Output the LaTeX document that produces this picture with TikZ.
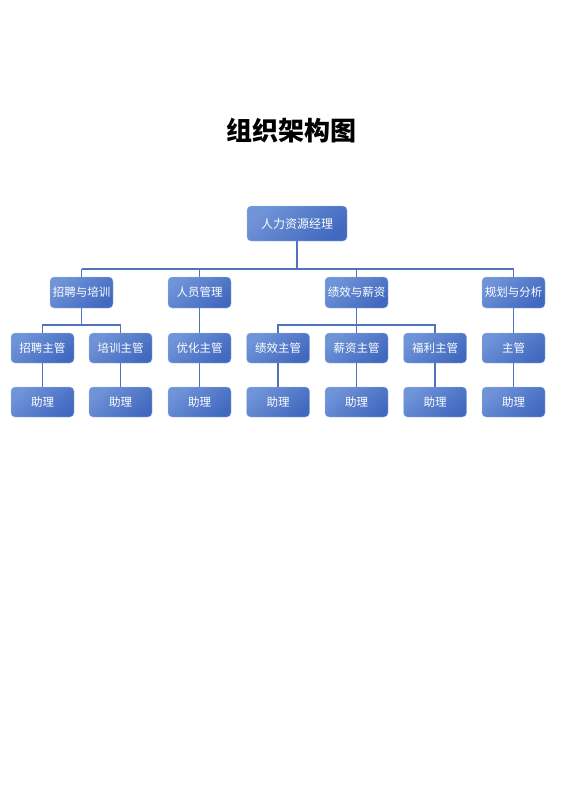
\documentclass[tikz,border=0pt]{standalone}
\usepackage{fontspec}
\newfontfamily\cjk{Noto Sans CJK SC}
\usetikzlibrary{calc}
\definecolor{boxlight}{HTML}{7094D8}
\definecolor{boxdark}{HTML}{4169BF}
\definecolor{linkblue}{HTML}{5073BD}
\begin{document}
\begin{tikzpicture}[
      x=1pt, y=-1pt,
      box/.style={
        rounded corners=4pt,
        top color=boxlight,
        bottom color=boxdark,
        shading angle=40,
        draw=boxlight!60!white,
        line width=0.3pt,
        text=white,
        font=\cjk\fontsize{11.5}{13}\selectfont,
        minimum width=63pt,
        minimum height=30pt,
        inner sep=0pt},
      link/.style={
        draw=linkblue,
        line width=1.1pt}]
    \useasboundingbox (0,0) rectangle (560,792);

    \node[font=\cjk\bfseries\fontsize{26}{30}\selectfont] (title) at (291,131) {组织架构图};

    \node[box, minimum width=100pt, minimum height=35pt, font=\cjk\fontsize{12}{14}\selectfont] (hr) at (297,223.5) {人力资源经理};

    \node[box, minimum height=31pt] (recruit) at (81.5,292.5)  {招聘与培训};
    \node[box, minimum height=31pt] (staff)   at (199.5,292.5) {人员管理};
    \node[box, minimum height=31pt] (perf)    at (356.5,292.5) {绩效与薪资};
    \node[box, minimum height=31pt] (plan)    at (513.5,292.5) {规划与分析};

    \node[box] (m1) at (42.5,348)  {招聘主管};
    \node[box] (m2) at (120.5,348) {培训主管};
    \node[box] (m3) at (199.5,348) {优化主管};
    \node[box] (m4) at (278,348)   {绩效主管};
    \node[box] (m5) at (356.5,348) {薪资主管};
    \node[box] (m6) at (435,348)   {福利主管};
    \node[box] (m7) at (513.5,348) {主管};

    \foreach \i/\x in {1/42.5,2/120.5,3/199.5,4/278,5/356.5,6/435,7/513.5}
      \node[box] (a\i) at (\x,402) {助理};

    \coordinate (bus)  at (0,269);
    \coordinate (busa) at (0,325);

    \draw[link] (hr.south) -- (hr.south |- bus);
    \draw[link] (recruit.north |- bus) -- (plan.north |- bus);
    \draw[link] (recruit.north |- bus) -- (recruit.north);
    \draw[link] (staff.north |- bus)   -- (staff.north);
    \draw[link] (perf.north |- bus)    -- (perf.north);
    \draw[link] (plan.north |- bus)    -- (plan.north);

    \draw[link] (recruit.south) -- (recruit.south |- busa);
    \draw[link] (m1.north) |- (busa -| m2.north) -- (m2.north);
    \draw[link] (staff.south) -- (m3.north);
    \draw[link] (perf.south) -- (m5.north);
    \draw[link] (m4.north) |- (busa -| m6.north) -- (m6.north);
    \draw[link] (plan.south) -- (m7.north);

    \foreach \i in {1,...,7}
      \draw[link] (m\i.south) -- (a\i.north);
  \end{tikzpicture}
\end{document}
